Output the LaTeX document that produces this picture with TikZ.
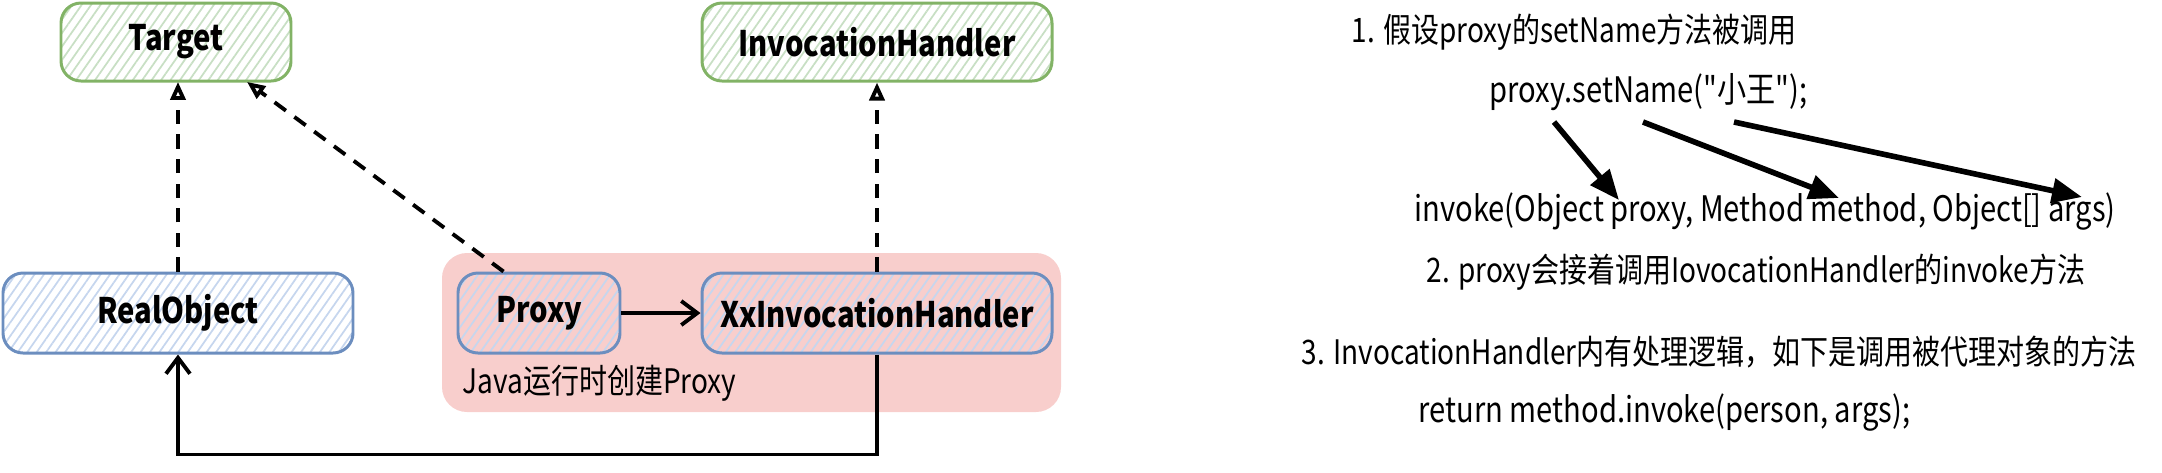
\documentclass[tikz,border=0pt]{standalone}
\usepackage{fontspec}
\setmainfont{Noto Sans CJK SC}[Ligatures=TeXOff,FakeStretch=0.83]
\usetikzlibrary{arrows.meta,positioning,calc,patterns.meta}
\definecolor{GreenLine}{HTML}{82B366}
\definecolor{GreenHatch}{HTML}{C8DFC4}
\definecolor{BlueLine}{HTML}{6C8EBF}
\definecolor{BlueHatch}{HTML}{C6D6EE}
\definecolor{RuntimeBg}{HTML}{F8CECC}
\tikzset{
  frame/.style={rounded corners=2mm,line width=.85pt,align=center,inner sep=0pt,font=\bfseries\fontsize{10}{12}\selectfont},
  iface/.style={frame,draw=GreenLine,pattern={Lines[angle=55,distance=2.2pt,line width=.5pt]},pattern color=GreenHatch},
  impl/.style={frame,draw=BlueLine,pattern={Lines[angle=55,distance=2.2pt,line width=.5pt]},pattern color=BlueHatch},
  zone/.style={fill=RuntimeBg,rounded corners=2.5mm,inner sep=0pt},
  realize/.style={-{Triangle[open,length=1.8mm,width=1.5mm]},dash pattern=on 4pt off 3pt,line width=1.1pt},
  call/.style={-{Straight Barb[length=1.6mm,width=2.4mm]},line width=1.1pt},
  pointer/.style={-{Triangle[length=3mm,width=2.4mm]},line width=1.6pt},
  note/.style={anchor=west,inner sep=0pt,font=\fontsize{10}{12}\selectfont},
  cjknote/.style={note,font=\fontsize{9.6}{12}\selectfont}
}
\begin{document}
\begin{tikzpicture}[x=0.1mm,y=-0.1mm]
  \useasboundingbox (0,0) rectangle (2162,472);
  % runtime area behind the proxy classes
  \node[zone,minimum width=61.9mm,minimum height=15.9mm] (runtime) at (751.5,332.5) {};
  \node[iface,minimum width=23mm,minimum height=7.8mm] (target) at (176,42) {Target};
  \node[iface,minimum width=35mm,minimum height=7.8mm] (handler) at (877,42) {InvocationHandler};
  \node[impl,minimum width=35mm,minimum height=8mm] (real) at (178,313) {RealObject};
  \node[impl,minimum width=16.2mm,minimum height=8mm] (proxy) at (539,313) {Proxy};
  \node[impl,minimum width=35mm,minimum height=8mm] (xxhandler) at (877,313) {XxInvocationHandler};
  \node[cjknote] (created) at (462,383) {Java运行时创建Proxy};
  \draw[realize] (real.north) -- (real.north |- target.south);
  \draw[realize] ([xshift=4.7mm]proxy.north west) -- ([xshift=7.1mm]target.south);
  \draw[realize] (xxhandler.north) -- (handler.south);
  \draw[call] (proxy) -- (xxhandler);
  \draw[call] (xxhandler.south) -- ++(0,100) -| (real.south);
  % call explanation
  \node[cjknote] (step1) at (1351,32) {1. 假设proxy的setName方法被调用};
  \node[note] (setname) at (1489,92) {proxy.setName("小王");};
  \node[note] (invoke) at (1414,212) {invoke(Object proxy, Method method, Object[] args)};
  \node[cjknote] (step2) at (1426,272) {2. proxy会接着调用IovocationHandler的invoke方法};
  \node[cjknote] (step3) at (1301,352) {3. InvocationHandler内有处理逻辑，如下是调用被代理对象的方法};
  \node[note] (ret) at (1418,413) {return method.invoke(person, args);};
  \coordinate (from1) at (1554,122);
  \coordinate (from2) at (1643,122);
  \coordinate (from3) at (1734,122);
  \coordinate (to1) at (1619,200);
  \coordinate (to2) at (1839,198);
  \coordinate (to3) at (2082,197);
  \draw[pointer] (from1) -- (to1);
  \draw[pointer] (from2) -- (to2);
  \draw[pointer] (from3) -- (to3);
\end{tikzpicture}
\end{document}
